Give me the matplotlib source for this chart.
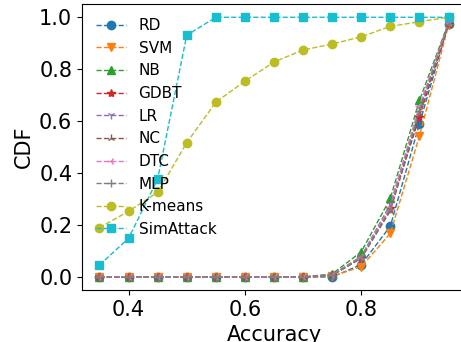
import matplotlib
matplotlib.use("Agg")
import matplotlib.pyplot as plt

acc = [0.35, 0.40, 0.45, 0.50, 0.55, 0.60, 0.65, 0.70, 0.75, 0.80, 0.85, 0.90, 0.95]

rd      = [0, 0, 0, 0, 0, 0, 0, 0, 0.000, 0.048, 0.196, 0.590, 0.975]
svm     = [0, 0, 0, 0, 0, 0, 0, 0, 0.003, 0.040, 0.168, 0.543, 0.970]
nb      = [0, 0, 0, 0, 0, 0, 0, 0, 0.012, 0.097, 0.303, 0.680, 0.980]
gdbt    = [0, 0, 0, 0, 0, 0, 0, 0, 0.008, 0.075, 0.265, 0.617, 0.975]
lr      = [0, 0, 0, 0, 0, 0, 0, 0, 0.008, 0.080, 0.280, 0.650, 0.978]
nc      = [0, 0, 0, 0, 0, 0, 0, 0, 0.006, 0.072, 0.255, 0.630, 0.975]
dtc     = [0, 0, 0, 0, 0, 0, 0, 0, 0.008, 0.078, 0.270, 0.660, 0.978]
mlp     = [0, 0, 0, 0, 0, 0, 0, 0, 0.007, 0.075, 0.262, 0.640, 0.976]
kmeans  = [0.190, 0.253, 0.326, 0.517, 0.673, 0.754, 0.828, 0.874, 0.897, 0.925, 0.965, 0.983, 1.0]
simatk  = [0.046, 0.149, 0.377, 0.931, 1.0, 1.0, 1.0, 1.0, 1.0, 1.0, 1.0, 1.0, 1.0]

series = [
    ("RD", rd, "o"),
    ("SVM", svm, "v"),
    ("NB", nb, "^"),
    ("GDBT", gdbt, "*"),
    ("LR", lr, "1"),
    ("NC", nc, "2"),
    ("DTC", dtc, "3"),
    ("MLP", mlp, "+"),
    ("K-means", kmeans, "o"),
    ("SimAttack", simatk, "s"),
]

fig = plt.figure(figsize=(4.61, 3.42), dpi=100)
ax = fig.add_axes([82/461, 52/342, (466-82)/461, (290-4.3)/342])
for name, vals, mk in series:
    ax.plot(acc, vals, linestyle="--", marker=mk, linewidth=1, markersize=6, label=name)

ax.set_xticks([0.4, 0.6, 0.8])
ax.set_yticks([0.0, 0.2, 0.4, 0.6, 0.8, 1.0])
ax.tick_params(labelsize=15)
ax.set_xlabel("Accuracy", fontsize=15)
ax.set_ylabel("CDF", fontsize=15)
ax.legend(loc="upper left", frameon=False, fontsize=11)
fig.savefig("out.png", dpi=100)
